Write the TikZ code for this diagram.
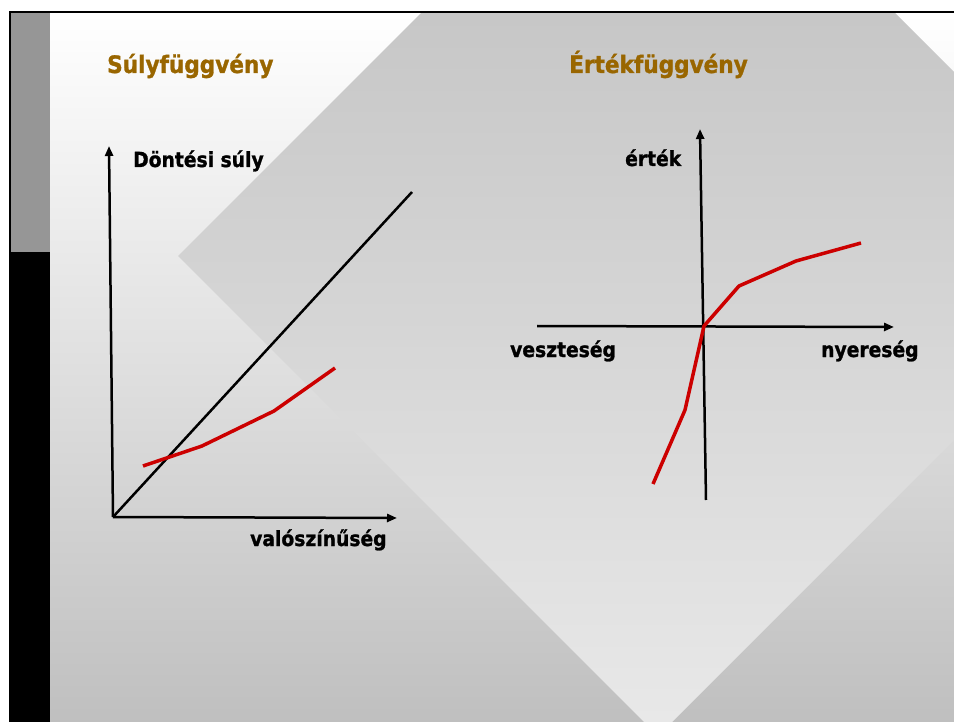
\documentclass[tikz,border=0pt]{standalone}
\usepackage{fontspec}
\setmainfont{DejaVu Sans Condensed}[BoldFont={DejaVu Sans Condensed Bold}, BoldFeatures={FakeBold=1.2}]
\usetikzlibrary{arrows.meta}
\definecolor{titlebrown}{RGB}{153,102,0}
\definecolor{curvered}{RGB}{204,0,0}
\tikzset{x=1pt, y=-1pt,
  axis/.style={draw=black, line width=2.5pt, -{Triangle[length=10pt,width=8pt]}},
  diagonal/.style={draw=black, line width=2.5pt},
  curve/.style={draw=curvered, line width=3.5pt, line join=round},
  slide title/.style={anchor=base west, inner sep=0pt, text=titlebrown,
        font=\fontsize{24}{28}\selectfont\bfseries},
  axis label/.style={anchor=base west, inner sep=0pt,
        font=\fontsize{20.8}{24}\selectfont\bfseries}
  }
\def\SlideBack{%
 \fill[white] (0,0) rectangle (954,722);
 \shade[top color=white, bottom color=black!25] (50,13) rectangle (954,722);
 \begin{scope}
   \clip (178,256) -- (658,-224) -- (1138,256) -- (658,736) -- cycle;
   \shade[top color=black!22, bottom color=black!9] (50,13) rectangle (954,722);
 \end{scope}
 \fill[black!41] (10,12) rectangle (50,252);
 \fill[black] (10,252) rectangle (50,722);
 \draw[black, line width=2pt] (10,722) -- (10,12) -- (954,12);
}
\begin{document}
\begin{tikzpicture}
\useasboundingbox (0,0) rectangle (954,722);
\SlideBack
\node[slide title] (weightTitle) at (107,73) {Súlyfüggvény};
\node[slide title] (valueTitle) at (569,73) {Értékfüggvény};
% Súlyfüggvény
\coordinate (wOrigin) at (113,517);
\coordinate (wTop) at (109,146);
\coordinate (wRight) at (397,518);
\coordinate (wDiag) at (412,192);
\draw[axis] (wOrigin) -- (wTop);
\draw[axis] (wOrigin) -- (wRight);
\draw[diagonal] (wOrigin) -- (wDiag);
\draw[curve] (143,466) -- (202,446) -- (274,411) -- (335,368);
\node[axis label] (weightLabel) at (133,167) {Döntési súly};
\node[axis label] (probLabel) at (250,546) {valószínűség};
% Értékfüggvény
\coordinate (vBottom) at (706,500);
\coordinate (vTop) at (700,129);
\coordinate (vLeft) at (537,326);
\coordinate (vRight) at (894,327);
\draw[axis] (vBottom) -- (vTop);
\draw[axis] (vLeft) -- (vRight);
\draw[curve] (653,484) -- (685,410) -- (704,326) -- (739,286) -- (796,261) -- (861,243);
\node[axis label] (valueLabel) at (625,166) {érték};
\node[axis label] (lossLabel) at (510,357) {veszteség};
\node[axis label] (gainLabel) at (821,357) {nyereség};
\end{tikzpicture}
\end{document}
